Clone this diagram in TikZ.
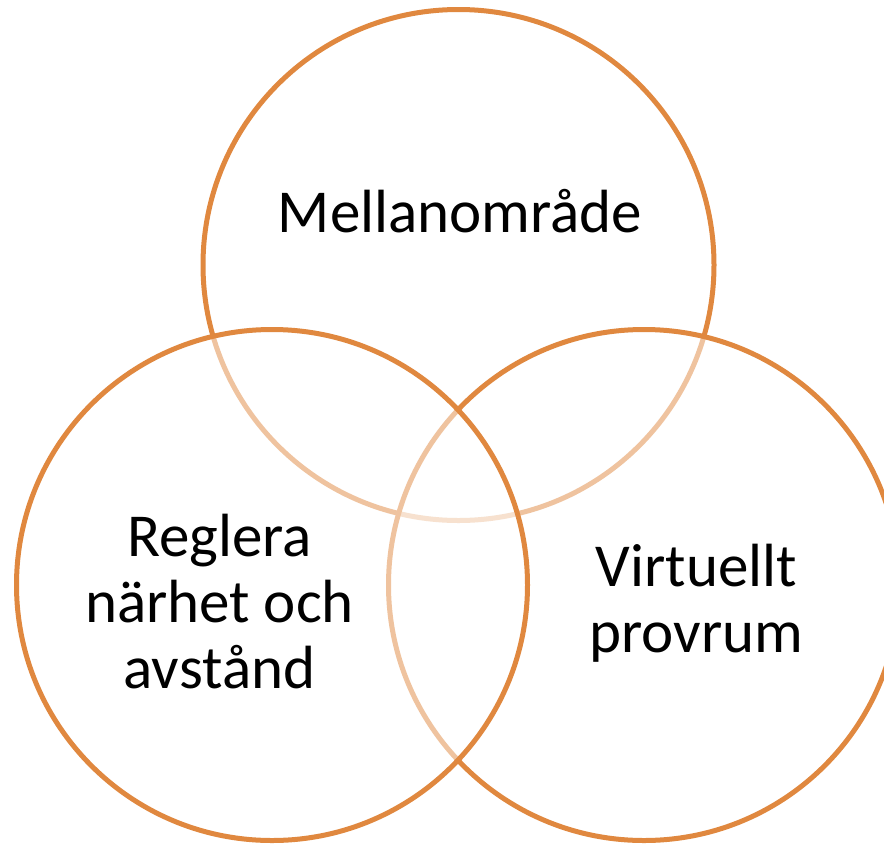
\documentclass[tikz,border=0pt]{standalone}
\usepackage{fontspec}
\setmainfont{Carlito}
\definecolor{vennorange}{HTML}{E0883F}
\begin{document}
\begin{tikzpicture}[x=1pt,y=-1pt,
  venncircle/.style={draw=vennorange,line width=5pt,fill=white,fill opacity=0.5,draw opacity=1},
  vennlabel/.style={font=\fontsize{61}{66}\selectfont,align=center,text=black,inner sep=0pt,anchor=base}]
\useasboundingbox (0,0) rectangle (884,844);
\path[venncircle] (458.5,265) circle[radius=255.5];
\path[venncircle] (644,585) circle[radius=255.5];
\path[venncircle] (272,585) circle[radius=255.5];
\node[vennlabel] (top) at (460,232) {Mellanområde};
\node[vennlabel] (left) at (219.5,688) {Reglera\\närhet och\\avstånd};
\node[vennlabel] (right) at (696.5,652) {Virtuellt\\provrum};
\end{tikzpicture}
\end{document}
